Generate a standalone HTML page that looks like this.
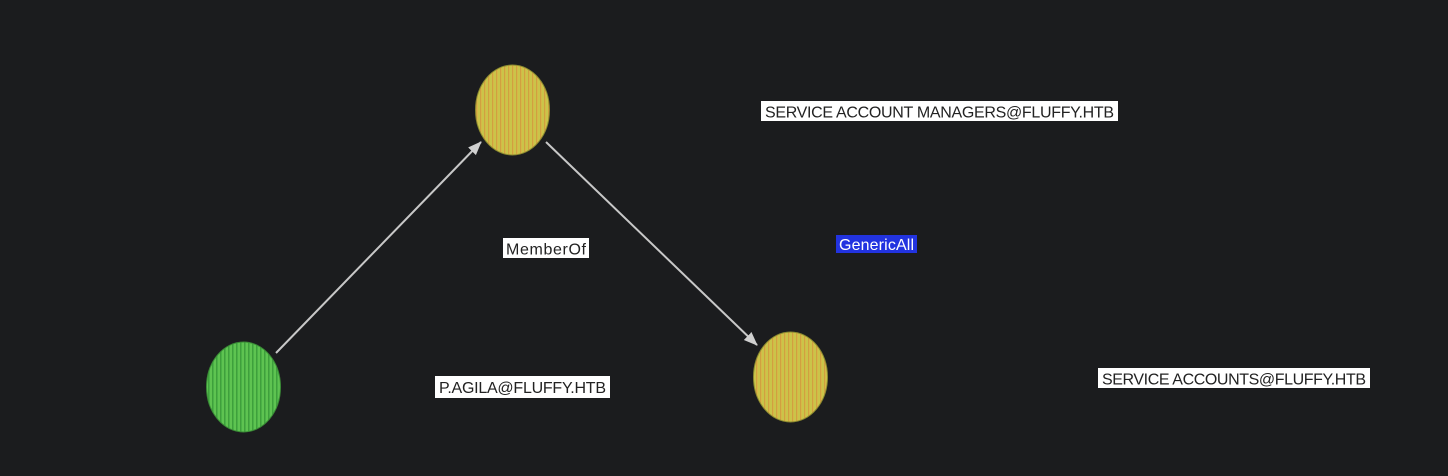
<!DOCTYPE html>
<html><head><meta charset="utf-8"><style>
html,body{margin:0;padding:0;background:#1b1c1e;}
svg{display:block}
text{font-family:"Liberation Sans",sans-serif;font-size:16px;}
</style></head><body>
<svg width="1448" height="476" viewBox="0 0 1448 476" xmlns="http://www.w3.org/2000/svg">
<defs>
<pattern id="py" width="4" height="4" patternUnits="userSpaceOnUse">
<rect width="4" height="4" fill="#d8c24a"/><rect width="1.3" height="4" fill="#d0a040"/><rect x="2.5" width="1" height="4" fill="#bcc648"/>
</pattern>
<pattern id="pg" width="4" height="4" patternUnits="userSpaceOnUse">
<rect width="4" height="4" fill="#4fba4a"/><rect width="1.3" height="4" fill="#3f9f3c"/><rect x="2.5" width="1" height="4" fill="#6ccc58"/>
</pattern>
<marker id="ar" markerWidth="14" markerHeight="14" refX="13" refY="7" orient="auto" markerUnits="userSpaceOnUse">
<path d="M0,1.5 L14,7 L0,12.5 Z" fill="#d0d0d0"/>
</marker>
</defs>
<line x1="276" y1="353" x2="481" y2="142" stroke="#c8c8c8" stroke-width="2" marker-end="url(#ar)"/>
<line x1="546" y1="142" x2="757" y2="345" stroke="#c8c8c8" stroke-width="2" marker-end="url(#ar)"/>
<ellipse cx="243.5" cy="387" rx="37" ry="45" fill="url(#pg)" stroke="#3a8a36" stroke-width="1"/>
<ellipse cx="512.5" cy="110" rx="37" ry="45" fill="url(#py)" stroke="#8c8a30" stroke-width="1"/>
<ellipse cx="790.5" cy="377" rx="37" ry="45" fill="url(#py)" stroke="#8c8a30" stroke-width="1"/>
<rect x="761" y="101" width="357" height="20" fill="#fff"/>
<text x="939.5" y="117.5" text-anchor="middle" fill="#222" textLength="349">SERVICE ACCOUNT MANAGERS@FLUFFY.HTB</text>
<rect x="503" y="238" width="86" height="20" fill="#fff"/>
<text x="546" y="254.5" text-anchor="middle" fill="#222" textLength="80">MemberOf</text>
<rect x="836" y="235" width="81" height="18" fill="#2233e0"/>
<text x="876.5" y="250" text-anchor="middle" fill="#fff" textLength="75">GenericAll</text>
<rect x="435" y="376" width="175" height="22" fill="#fff"/>
<text x="522.5" y="393" text-anchor="middle" fill="#222" textLength="167">P.AGILA@FLUFFY.HTB</text>
<rect x="1098" y="368" width="272" height="20" fill="#fff"/>
<text x="1234" y="384.5" text-anchor="middle" fill="#222" textLength="264">SERVICE ACCOUNTS@FLUFFY.HTB</text>
</svg>
</body></html>
